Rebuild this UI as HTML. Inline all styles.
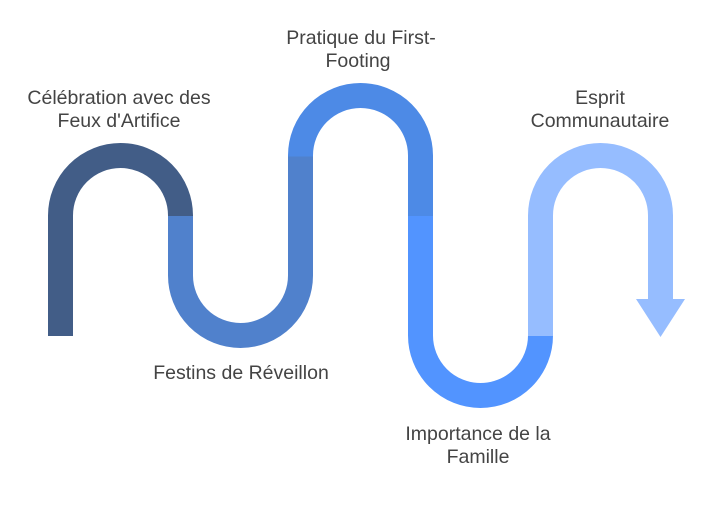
<!DOCTYPE html>
<html><head><meta charset="utf-8"><style>
body{margin:0;background:#fff;}
svg text{font-family:"Liberation Sans",Arial,sans-serif;font-size:19.5px;fill:#444;text-anchor:middle;}
</style></head><body>
<svg width="709" height="517" viewBox="0 0 709 517" xmlns="http://www.w3.org/2000/svg">
<g fill="none" stroke-width="25" stroke-linecap="butt">
<path d="M60.5 336 V215.5 A60 60 0 0 1 180.5 215.5 V216.5" stroke="#425d87"/>
<path d="M180.5 216 V275.5 A60 60 0 0 0 300.5 275.5 V155.5" stroke="#5081cc"/>
<path d="M300.5 156.5 V155.5 A60 60 0 0 1 420.5 155.5 V216.5" stroke="#4d8ae6"/>
<path d="M420.5 216 V335.5 A60 60 0 0 0 540.5 335.5 V335" stroke="#5294ff"/>
<path d="M540.5 336 V215.5 A60 60 0 0 1 660.5 215.5 V300" stroke="#96bdff"/>
</g>
<polygon points="636,299 685,299 660.5,337" fill="#96bdff"/>
<text x="119" y="104">Célébration avec des</text>
<text x="119" y="127">Feux d'Artifice</text>
<text x="241" y="379">Festins de Réveillon</text>
<text x="361" y="44">Pratique du First-</text>
<text x="358" y="67">Footing</text>
<text x="478" y="440">Importance de la</text>
<text x="478" y="463">Famille</text>
<text x="600" y="104">Esprit</text>
<text x="600" y="127">Communautaire</text>
</svg>
</body></html>
